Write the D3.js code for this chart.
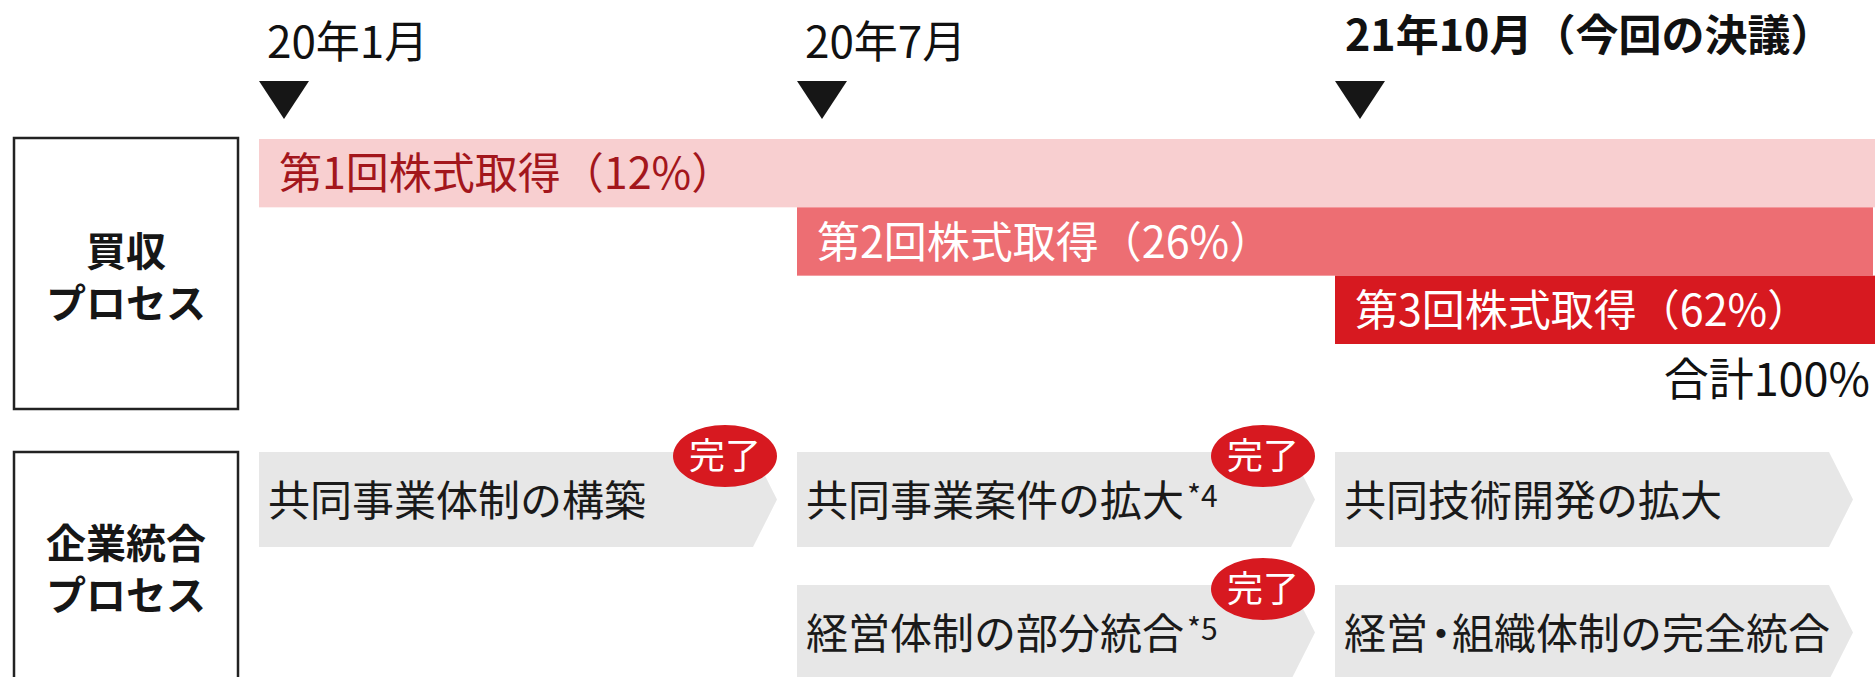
<!DOCTYPE html>
<html>
<head>
<meta charset="utf-8">
<script src="https://cdn.jsdelivr.net/npm/d3@7"></script>
<style>
  body { margin: 0; background: #fff; }
  svg { display: block; font-family: "Noto Sans CJK JP", "Noto Sans", sans-serif; }
</style>
</head>
<body>
<svg id="chart" width="1875" height="677"></svg>
<script>
// timeline milestones (column index = position on the time axis)
let milestones = ["20年1月", "20年7月", "21年10月（今回の決議）"];
let milestoneBold = [false, false, true];

// acquisition process: one bar per share purchase
let stakeLabels = ["第1回株式取得", "第2回株式取得", "第3回株式取得"];
let stakeShares = [12, 26, 62];
let stakeStart = [0, 1, 2];
let totalLabel = "合計100%";

// integration process steps
let taskLabels = ["共同事業体制の構築", "共同事業案件の拡大", "共同技術開発の拡大", "経営体制の部分統合", "経営・組織体制の完全統合"];
let taskNotes = ["", "*4", "", "*5", ""];
let taskCol = [0, 1, 2, 1, 2];
let taskRow = [0, 0, 0, 1, 1];
let taskDone = [true, true, false, true, false];

let sideLabels = [["買収", "プロセス"], ["企業統合", "プロセス"]];

let svg = d3.select("#chart");

let x = d3.scaleLinear().domain([0, 3]).range([259, 1873]);
let barY = d3.scaleBand().domain(d3.range(stakeLabels.length)).range([139, 344]);
let rowY = d3.scaleLinear().domain([0, 1]).range([452, 585]);
let rowH = 95;
let bodyW = 494, tip = 24;

let barColors = ["#f8cfd0", "#ed6e73", "#d71920"];
let barText = ["#a3161c", "#ffffff", "#ffffff"];

// milestone labels and triangles
svg.selectAll(".ms").data(milestones).join("text")
    .attr("x", (d, i) => x(i) + (milestoneBold[i] ? 10 : 8))
    .attr("y", (d, i) => milestoneBold[i] ? 51 : 58)
    .attr("font-size", (d, i) => milestoneBold[i] ? 43 : 44)
    .attr("font-weight", (d, i) => milestoneBold[i] ? 700 : 400)
    .attr("fill", "#111")
    .text(d => d);

svg.selectAll(".tri").data(milestones).join("path")
    .attr("d", (d, i) => {
        let c = x(i) + 25;
        return `M${c - 25},81L${c + 25},81L${c},119Z`;
    })
    .attr("fill", "#161616");

// side boxes
let boxes = [[138, 409], [452, 700]];
boxes.forEach((b, k) => {
    svg.append("rect")
        .attr("x", 14).attr("y", b[0])
        .attr("width", 224).attr("height", b[1] - b[0])
        .attr("fill", "none").attr("stroke", "#222").attr("stroke-width", 2.5);
});
let sideBase = [266, 558];
sideLabels.forEach((lines, k) => {
    let t = svg.append("text")
        .attr("y", sideBase[k])
        .attr("text-anchor", "middle")
        .attr("font-size", 40).attr("font-weight", 700)
        .attr("fill", "#161616");
    lines.forEach((s, j) => {
        t.append("tspan").attr("x", 126).attr("dy", j ? 52 : 0).text(s);
    });
});

// acquisition bars
svg.selectAll(".bar").data(stakeLabels).join("rect")
    .attr("x", (d, i) => x(stakeStart[i]))
    .attr("y", (d, i) => barY(i))
    .attr("width", (d, i) => (i == 1 ? x(3) : 1875) - x(stakeStart[i]))
    .attr("height", barY.bandwidth())
    .attr("fill", (d, i) => barColors[i]);

svg.selectAll(".barLabel").data(stakeLabels).join("text")
    .attr("x", (d, i) => x(stakeStart[i]) + 20)
    .attr("y", (d, i) => barY(i) + barY.bandwidth() / 2 + 16)
    .attr("font-size", 43)
    .attr("fill", (d, i) => barText[i])
    .text((d, i) => d + "（" + stakeShares[i] + "%）");

svg.append("text")
    .attr("x", 1870).attr("y", 396)
    .attr("text-anchor", "end")
    .attr("font-size", 45).attr("fill", "#111")
    .text(totalLabel);

// integration chevrons
let chevron = (i) => {
    let x0 = x(taskCol[i]), y0 = rowY(taskRow[i]);
    return `M${x0},${y0}L${x0 + bodyW},${y0}L${x0 + bodyW + tip},${y0 + rowH / 2}L${x0 + bodyW},${y0 + rowH}L${x0},${y0 + rowH}Z`;
};
svg.selectAll(".chev").data(taskLabels).join("path")
    .attr("d", (d, i) => chevron(i))
    .attr("fill", "#e7e7e7");

let tl = svg.selectAll(".task").data(taskLabels).join("text")
    .attr("x", (d, i) => x(taskCol[i]) + 9)
    .attr("y", (d, i) => rowY(taskRow[i]) + rowH / 2 + 16)
    .attr("font-size", 42)
    .attr("fill", "#1a1a1a");
// split on "・" so the dot can sit tight like the original's proportional font
tl.each(function (d) {
    let parts = d.split("・");
    let t = d3.select(this);
    parts.forEach((p, j) => {
        if (j > 0) t.append("tspan").attr("dx", -8).text("・");
        t.append("tspan").attr("dx", j > 0 ? -10 : 0).text(p);
    });
});
tl.append("tspan")
    .attr("font-size", 30)
    .attr("dx", 3)
    .attr("dy", -9)
    .text((d, i) => taskNotes[i]);

// "完了" badges
let done = taskLabels.map((d, i) => i).filter(i => taskDone[i]);
svg.selectAll(".badge").data(done).join("ellipse")
    .attr("cx", i => x(taskCol[i]) + 466)
    .attr("cy", i => rowY(taskRow[i]) + 4)
    .attr("rx", 52).attr("ry", 31)
    .attr("fill", "#d71920");
svg.selectAll(".badgeText").data(done).join("text")
    .attr("x", i => x(taskCol[i]) + 466)
    .attr("y", i => rowY(taskRow[i]) + 4 + 13)
    .attr("text-anchor", "middle")
    .attr("font-size", 36)
    .attr("fill", "#fff")
    .text("完了");
</script>
</body>
</html>
